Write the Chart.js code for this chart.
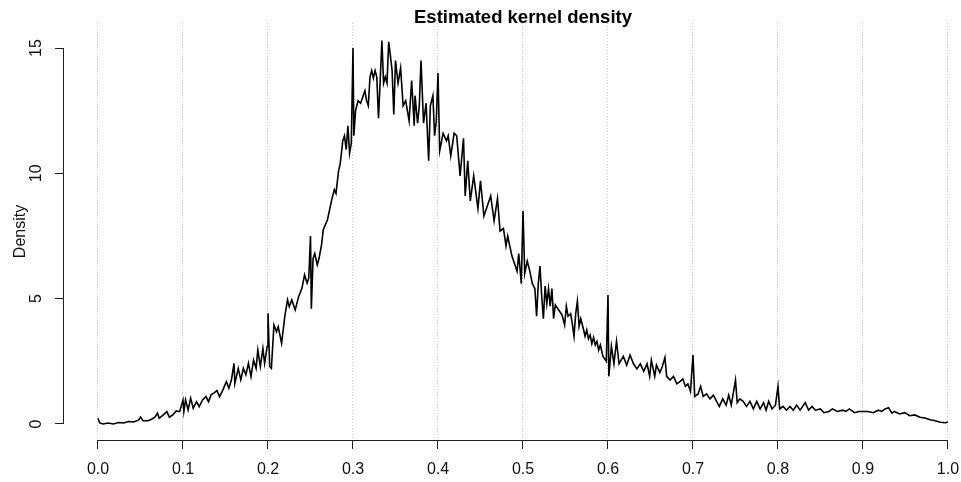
<!DOCTYPE html>
<html>
<head>
<meta charset="utf-8">
<title>Estimated kernel density</title>
<script src="https://cdn.jsdelivr.net/npm/chart.js@4.4.1/dist/chart.umd.min.js"></script>
<style>
  html, body { margin: 0; padding: 0; background: #fff; }
  canvas { display: block; }
</style>
</head>
<body>
<canvas id="chartDens" width="961" height="482"></canvas>
<script>
/* =======================================================
     DATOS
======================================================= */
const densX = [
  0, 0.002, 0.006, 0.012, 0.018, 0.024, 0.03, 0.036, 0.042, 0.048,
  0.05, 0.053, 0.059, 0.063, 0.067, 0.07, 0.072, 0.077, 0.081, 0.084,
  0.088, 0.092, 0.096, 0.1, 0.101, 0.103, 0.106, 0.109, 0.112, 0.116,
  0.119, 0.123, 0.127, 0.13, 0.133, 0.137, 0.14, 0.143, 0.147, 0.151,
  0.154, 0.157, 0.16, 0.161, 0.165, 0.168, 0.171, 0.174, 0.177, 0.18,
  0.183, 0.186, 0.188, 0.191, 0.194, 0.196, 0.199, 0.2, 0.202, 0.204,
  0.207, 0.21, 0.212, 0.216, 0.22, 0.223, 0.225, 0.228, 0.232, 0.236,
  0.24, 0.243, 0.246, 0.248, 0.25, 0.251, 0.253, 0.255, 0.258, 0.26,
  0.263, 0.265, 0.27, 0.275, 0.278, 0.28, 0.283, 0.285, 0.288, 0.29,
  0.292, 0.294, 0.296, 0.298, 0.3, 0.301, 0.303, 0.306, 0.309, 0.312,
  0.314, 0.316, 0.318, 0.32, 0.322, 0.324, 0.326, 0.328, 0.33, 0.332,
  0.334, 0.336, 0.338, 0.34, 0.342, 0.344, 0.346, 0.348, 0.35, 0.353,
  0.356, 0.359, 0.362, 0.366, 0.369, 0.372, 0.373, 0.376, 0.378, 0.38,
  0.383, 0.386, 0.389, 0.391, 0.394, 0.396, 0.398, 0.4, 0.402, 0.406,
  0.41, 0.412, 0.415, 0.419, 0.422, 0.426, 0.43, 0.432, 0.435, 0.438,
  0.442, 0.447, 0.45, 0.454, 0.458, 0.462, 0.466, 0.47, 0.473, 0.477,
  0.48, 0.482, 0.487, 0.489, 0.493, 0.495, 0.498, 0.5, 0.502, 0.505,
  0.508, 0.511, 0.514, 0.516, 0.518, 0.52, 0.522, 0.524, 0.526, 0.528,
  0.53, 0.532, 0.534, 0.536, 0.538, 0.542, 0.546, 0.549, 0.551, 0.553,
  0.556, 0.558, 0.56, 0.562, 0.564, 0.566, 0.568, 0.571, 0.573, 0.575,
  0.577, 0.579, 0.581, 0.583, 0.585, 0.587, 0.589, 0.591, 0.594, 0.598,
  0.6, 0.601, 0.604, 0.607, 0.61,
  0.613, 0.618, 0.622, 0.626, 0.63, 0.634, 0.638, 0.642, 0.646, 0.649,
  0.651, 0.655, 0.657, 0.661, 0.664, 0.667, 0.669, 0.673, 0.677, 0.681,
  0.685, 0.688, 0.691, 0.694, 0.697, 0.7, 0.702, 0.706, 0.709, 0.712,
  0.716, 0.72, 0.724, 0.727, 0.731, 0.735, 0.739, 0.742, 0.745, 0.75,
  0.752, 0.755, 0.759, 0.763, 0.767, 0.771, 0.775, 0.779, 0.783, 0.786,
  0.789, 0.793, 0.797, 0.8, 0.802, 0.806, 0.81, 0.814, 0.818, 0.822,
  0.826, 0.832, 0.836, 0.84, 0.844, 0.85, 0.854, 0.86, 0.864, 0.87,
  0.876, 0.88, 0.884, 0.89, 0.895, 0.9, 0.906, 0.912, 0.918, 0.922,
  0.926, 0.93, 0.934, 0.937, 0.943, 0.949, 0.955, 0.961, 0.967, 0.973,
  0.979, 0.985, 0.991, 0.997, 1.0
];
const densY = [
  0.23, 0.04, 0.0, 0.04, 0.0, 0.06, 0.04, 0.1, 0.08, 0.16,
  0.28, 0.13, 0.13, 0.19, 0.27, 0.43, 0.23, 0.36, 0.49, 0.27,
  0.36, 0.52, 0.49, 0.95, 0.5, 0.96, 0.56, 1.03, 0.63, 0.89,
  0.69, 0.96, 1.09, 0.89, 1.16, 1.25, 1.33, 1.09, 1.36, 1.69,
  1.43, 1.76, 2.42, 1.62, 2.22, 1.76, 2.22, 1.96, 2.42, 1.89,
  2.55, 2.22, 2.95, 2.29, 3.02, 2.42, 3.09, 4.42, 2.3, 2.22,
  3.95, 3.68, 3.88, 3.22, 4.35, 4.95, 4.68, 4.95, 4.55, 5.08,
  5.42, 5.95, 5.62, 5.83, 7.5, 4.6, 6.6, 6.8, 6.35, 6.6,
  7.15, 7.75, 8.15, 8.95, 9.35, 9.2, 10.1, 10.4, 11.3, 11.5,
  10.95, 11.9, 10.8, 11.2, 15.0, 11.5, 12.5, 12.9, 12.8, 13.1,
  13.3, 12.9, 12.7, 13.85, 14.1, 13.8, 14.1, 13.85, 12.2, 13.7,
  15.3, 13.6, 13.85, 13.6, 15.25, 14.7, 14.1, 12.35, 14.5, 13.6,
  14.2, 12.7, 12.9, 12.1, 13.7, 11.9, 13.1, 12.0, 12.7, 14.5,
  12.0, 12.8, 10.5, 12.7, 13.1, 11.5, 12.1, 14.0, 10.9, 11.6,
  11.3, 11.5, 10.7, 11.6, 11.5, 9.9, 11.4, 9.1, 10.5, 8.9,
  9.9, 8.6, 9.7, 8.3, 8.7, 9.1, 8.1, 9.0, 7.7, 7.8,
  7.1, 7.5, 6.7, 6.5, 6.1, 6.8, 5.6, 8.5, 6.0, 6.5,
  6.1, 5.6, 5.4, 4.3, 5.6, 6.3, 5.1, 4.2, 5.5, 4.8,
  5.4, 4.7, 5.4, 4.2, 4.75, 4.55, 4.35, 3.95, 4.7, 4.3,
  4.4, 4.0, 3.5, 4.4, 4.9, 3.9, 4.2, 3.8, 3.5, 3.75,
  3.4, 3.55, 3.2, 3.45, 3.15, 3.3, 2.95, 3.15, 2.7, 2.5,
  5.15, 1.9, 3.1, 2.4, 3.3,
  2.4, 2.7, 2.35, 2.75, 2.4, 2.2, 2.4, 2.1, 2.4, 1.9,
  2.55, 1.9, 2.35, 2.05, 2.3, 2.65, 1.9, 1.75, 1.9, 1.6,
  1.7, 1.8, 1.5, 1.6, 1.3, 2.75, 1.1, 1.2, 1.5, 1.1,
  1.2, 1.0, 1.15, 0.95, 0.7, 1.0, 0.75, 1.15, 0.75, 1.75,
  0.85, 1.0, 0.9, 0.7, 0.9, 0.6, 0.9, 0.6, 0.85, 0.55,
  0.9, 0.6, 0.75, 1.5, 0.6, 0.7, 0.55, 0.7, 0.55, 0.75,
  0.55, 0.85, 0.55, 0.7, 0.55, 0.6, 0.45, 0.5, 0.6, 0.5,
  0.55, 0.5, 0.6, 0.45, 0.5, 0.5, 0.5, 0.45, 0.55, 0.5,
  0.6, 0.65, 0.43, 0.5, 0.4, 0.45, 0.33, 0.36, 0.27, 0.24,
  0.17, 0.13, 0.07, 0.05, 0.08
];
const xTicks = [0, 0.1, 0.2, 0.3, 0.4, 0.5, 0.6, 0.7, 0.8, 0.9, 1.0];
const yTicks = [0, 5, 10, 15];
const titulo = 'Estimated kernel density';
const yTitulo = 'Density';

/* =======================================================
     ESTILO
======================================================= */
const fuente = '"Liberation Sans", Arial, Helvetica, sans-serif';
const tinta = '#111';

/* =======================================================
     EJES Y TÍTULO ESTILO R
======================================================= */
// R dibuja la línea del eje solo entre el primer y último tick
const ejesR = {
  id: 'ejesR',
  afterDraw(chart) {
    const { ctx, chartArea, scales: { x, y } } = chart;
    ctx.save();
    ctx.strokeStyle = '#222';
    ctx.lineWidth = 1;
    ctx.beginPath();
    const yb = Math.round(chartArea.bottom) + 0.5;
    ctx.moveTo(x.getPixelForValue(xTicks[0]), yb);
    ctx.lineTo(x.getPixelForValue(xTicks[xTicks.length - 1]), yb);
    const xl = Math.round(chartArea.left) - 0.5;
    ctx.moveTo(xl, y.getPixelForValue(yTicks[0]));
    ctx.lineTo(xl, y.getPixelForValue(yTicks[yTicks.length - 1]));
    ctx.stroke();

    ctx.fillStyle = '#000';
    ctx.font = 'bold 18.5px ' + fuente;
    ctx.textAlign = 'center';
    ctx.textBaseline = 'alphabetic';
    ctx.fillText(titulo, x.getPixelForValue(0.5), 23);
    ctx.restore();
  }
};

// sin relleno extra por las etiquetas: el área del gráfico queda fija
const sinRelleno = s => {
  s.paddingLeft = 0; s.paddingRight = 0;
  s.paddingTop = 0; s.paddingBottom = 0;
};

/* =======================================================
     GRÁFICA
======================================================= */
const puntos = densX.map((v, i) => ({ x: v, y: densY[i] }));

new Chart(document.getElementById('chartDens'), {
  type: 'line',
  data: { datasets: [{
    label: 'density',
    data: puntos,
    borderColor: '#000',
    borderWidth: 1.6,
    pointRadius: 0,
    tension: 0,
    fill: false
  }]},
  options: {
    responsive: false,
    animation: false,
    devicePixelRatio: 1,
    layout: { padding: { left: 0, top: 23, right: 0, bottom: 0 } },
    plugins: { legend: { display: false }, tooltip: { enabled: false }, title: { display: false } },
    scales: {
      x: {
        type: 'linear',
        min: -0.04,
        max: 1.0153,
        afterBuildTicks: s => { s.ticks = xTicks.map(v => ({ value: v })); },
        afterFit: s => { s.height = 42; sinRelleno(s); },
        ticks: {
          callback: v => Number(v).toFixed(1),
          font: { family: fuente, size: 16 },
          color: tinta,
          padding: 11,
          maxRotation: 0,
          autoSkip: false
        },
        grid: { color: '#c8c8c8', lineWidth: 1, tickLength: 9, tickColor: '#222', tickWidth: 1 },
        border: { display: false, dash: [1, 2] }
      },
      y: {
        type: 'linear',
        min: -0.64,
        max: 16.0,
        afterBuildTicks: s => { s.ticks = yTicks.map(v => ({ value: v })); },
        afterFit: s => { s.width = 64; sinRelleno(s); },
        ticks: {
          font: { family: fuente, size: 16 },
          color: tinta,
          minRotation: 90,
          maxRotation: 90,
          crossAlign: 'center',
          padding: 10
        },
        grid: { drawOnChartArea: false, tickLength: 9, tickColor: '#222', tickWidth: 1 },
        border: { display: false },
        title: {
          display: true,
          text: yTitulo,
          font: { family: fuente, size: 16 },
          color: tinta,
          padding: { top: 11, bottom: 0 }
        }
      }
    }
  },
  plugins: [ejesR]
});
</script>
</body>
</html>
